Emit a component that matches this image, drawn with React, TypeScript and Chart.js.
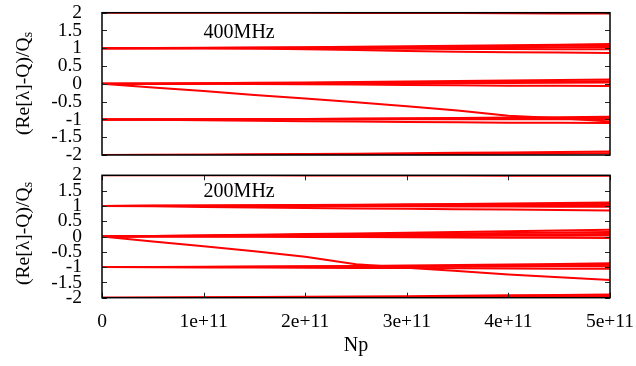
import React, { useEffect, useRef } from 'react';
import { Chart, registerables } from 'chart.js';

Chart.register(...registerables);

// ---------- data ----------
const npValues = [0, 0.5e11, 1e11, 1.5e11, 2e11, 2.5e11, 3e11, 3.5e11, 4e11, 4.5e11, 5e11];
const npMin = 0;
const npMax = 5e11;
const npStep = 1e11;
const yMin = -2;
const yMax = 2;
const yStep = 0.5;

const topLabel = '400MHz';
const bottomLabel = '200MHz';
const labelNp = 1e11;
const labelY = 1.3;
const xTitle = 'Np';
const yTitleMain = '(Re[λ]-Q)/Q';
const yTitleSub = 's';

// 400 MHz panel
const m400Plus2 = [2, 2, 2, 2, 2, 1.995, 1.99, 1.99, 1.985, 1.98, 1.98];
const m400Up1 = [1, 1.005, 1.012, 1.02, 1.03, 1.04, 1.055, 1.07, 1.085, 1.1, 1.12];
const m400Up2 = [1, 1.003, 1.008, 1.014, 1.02, 1.028, 1.036, 1.046, 1.056, 1.068, 1.08];
const m400Up3 = [1, 1.001, 1.003, 1.006, 1.009, 1.012, 1.016, 1.02, 1.025, 1.03, 1.035];
const m400Up4 = [1, 1, 0.999, 0.997, 0.995, 0.99, 0.986, 0.982, 0.978, 0.974, 0.97];
const m400Up5 = [1, 1, 1, 0.995, 0.975, 0.95, 0.925, 0.905, 0.89, 0.88, 0.87];
const m400Zero1 = [0, 0.01, 0.02, 0.03, 0.04, 0.05, 0.065, 0.08, 0.095, 0.11, 0.125];
const m400Zero2 = [0, 0.006, 0.012, 0.018, 0.025, 0.032, 0.04, 0.048, 0.056, 0.065, 0.075];
const m400Zero3 = [0, 0.002, 0.005, 0.008, 0.011, 0.014, 0.018, 0.022, 0.026, 0.03, 0.035];
const m400Zero4 = [0, 0, 0, -0.005, -0.01, -0.02, -0.03, -0.04, -0.05, -0.055, -0.06];
const m400Falling = [0, -0.1, -0.2, -0.31, -0.41, -0.52, -0.63, -0.75, -0.9, -0.97, -1.06];
const m400Down1 = [-1, -0.998, -0.995, -0.99, -0.985, -0.977, -0.968, -0.958, -0.948, -0.936, -0.925];
const m400Down2 = [-1, -0.999, -0.997, -0.994, -0.99, -0.986, -0.981, -0.976, -0.97, -0.964, -0.958];
const m400Down3 = [-1, -1, -1, -1, -1, -0.999, -0.998, -0.997, -0.996, -0.995, -0.994];
const m400Down4 = [-1, -1.01, -1.02, -1.035, -1.05, -1.06, -1.07, -1.08, -1.09, -1.095, -1.1];
const m400Minus1 = [-2, -1.996, -1.99, -1.982, -1.973, -1.963, -1.952, -1.94, -1.928, -1.915, -1.9];
const m400Minus2 = [-2, -1.998, -1.995, -1.991, -1.987, -1.982, -1.977, -1.971, -1.965, -1.958, -1.95];

// 200 MHz panel
const m200Plus2 = [2, 2, 2, 1.998, 1.996, 1.994, 1.992, 1.99, 1.988, 1.985, 1.982];
const m200Up1 = [1, 1.006, 1.013, 1.021, 1.03, 1.04, 1.052, 1.065, 1.08, 1.095, 1.11];
const m200Up2 = [1, 1.004, 1.008, 1.013, 1.019, 1.026, 1.033, 1.041, 1.05, 1.06, 1.07];
const m200Up3 = [1, 1.001, 1.003, 1.005, 1.008, 1.011, 1.014, 1.017, 1.021, 1.025, 1.03];
const m200Up4 = [1, 0.999, 0.997, 0.995, 0.992, 0.989, 0.986, 0.982, 0.978, 0.974, 0.97];
const m200Up5 = [1, 0.985, 0.965, 0.945, 0.928, 0.915, 0.903, 0.892, 0.88, 0.865, 0.85];
const m200Zero1 = [0, 0.02, 0.04, 0.06, 0.08, 0.1, 0.12, 0.145, 0.17, 0.195, 0.22];
const m200Zero2 = [0, 0.013, 0.027, 0.041, 0.055, 0.069, 0.084, 0.1, 0.116, 0.133, 0.15];
const m200Zero3 = [0, 0.007, 0.014, 0.021, 0.029, 0.037, 0.045, 0.054, 0.063, 0.072, 0.08];
const m200Zero4 = [0, 0.002, 0.005, 0.008, 0.011, 0.014, 0.017, 0.02, 0.023, 0.027, 0.03];
const m200Zero5 = [0, -0.002, -0.005, -0.01, -0.015, -0.02, -0.025, -0.03, -0.037, -0.043, -0.05];
const m200Falling = [0, -0.16, -0.32, -0.48, -0.66, -0.91, -1.02, -1.13, -1.24, -1.33, -1.42];
const m200Down1 = [-1, -0.995, -0.99, -0.982, -0.972, -0.961, -0.948, -0.933, -0.916, -0.897, -0.877];
const m200Down2 = [-1, -0.998, -0.995, -0.99, -0.984, -0.977, -0.969, -0.96, -0.95, -0.938, -0.925];
const m200Down3 = [-1, -1, -0.999, -0.997, -0.995, -0.992, -0.989, -0.985, -0.98, -0.975, -0.97];
const m200Down4 = [-1, -1.004, -1.009, -1.014, -1.02, -1.026, -1.032, -1.038, -1.044, -1.05, -1.056];
const m200Minus1 = [-2, -1.995, -1.989, -1.981, -1.972, -1.962, -1.951, -1.938, -1.924, -1.909, -1.893];
const m200Minus2 = [-2, -1.998, -1.995, -1.991, -1.986, -1.981, -1.975, -1.968, -1.961, -1.953, -1.945];

const series400 = [
  m400Plus2, m400Up1, m400Up2, m400Up3, m400Up4, m400Up5,
  m400Zero1, m400Zero2, m400Zero3, m400Zero4, m400Falling,
  m400Down1, m400Down2, m400Down3, m400Down4, m400Minus1, m400Minus2,
];
const series200 = [
  m200Plus2, m200Up1, m200Up2, m200Up3, m200Up4, m200Up5,
  m200Zero1, m200Zero2, m200Zero3, m200Zero4, m200Zero5, m200Falling,
  m200Down1, m200Down2, m200Down3, m200Down4, m200Minus1, m200Minus2,
];

// ---------- styling ----------
const FONT_FAMILY = '"Liberation Serif", "Times New Roman", serif';
const LINE_COLOR = 'rgb(255,0,0)';
const W = 636;
const H = 366;
const PLOT_LEFT = 102;
const PLOT_RIGHT = 610;
const TITLE_LEN = 103;

Chart.defaults.font.family = FONT_FAMILY;
Chart.defaults.font.size = 19.5;
Chart.defaults.color = '#000';

function buildDatasets(series: number[][]) {
  return series.map((ys) => ({
    data: ys.map((y, j) => ({ x: npValues[j], y })),
    borderColor: LINE_COLOR,
    backgroundColor: LINE_COLOR,
    borderWidth: 2,
    pointRadius: 0,
    pointHoverRadius: 0,
    tension: 0,
    fill: false,
  }));
}

const framePlugin = {
  id: 'gnuFrame',
  afterDraw(chart: any, _args: any, opts: any) {
    const { ctx, chartArea: a } = chart;
    const ys = chart.scales.y;
    const xs = chart.scales.x;
    ctx.save();
    ctx.strokeStyle = '#222';
    ctx.lineWidth = 1;
    ctx.beginPath();
    for (const t of ys.ticks) {
      const py = Math.round(ys.getPixelForValue(t.value)) + 0.5;
      ctx.moveTo(a.left, py);
      ctx.lineTo(a.left + 5, py);
      ctx.moveTo(a.right, py);
      ctx.lineTo(a.right - 5, py);
    }
    if (opts.xTicks) {
      for (const t of xs.ticks) {
        const px = Math.round(xs.getPixelForValue(t.value)) + 0.5;
        ctx.moveTo(px, a.top);
        ctx.lineTo(px, a.top + 5);
        ctx.moveTo(px, a.bottom);
        ctx.lineTo(px, a.bottom - 5);
      }
    }
    ctx.stroke();

    ctx.strokeStyle = '#000';
    ctx.lineWidth = 1.5;
    ctx.strokeRect(a.left, a.top, a.right - a.left, a.bottom - a.top);

    // panel label
    ctx.fillStyle = '#000';
    ctx.font = `20px ${FONT_FAMILY}`;
    ctx.textAlign = 'left';
    ctx.textBaseline = 'alphabetic';
    ctx.fillText(opts.label, xs.getPixelForValue(labelNp), ys.getPixelForValue(labelY));

    // y-axis title with subscript, sized to the reference length
    ctx.font = `20px ${FONT_FAMILY}`;
    const w0 = ctx.measureText(yTitleMain).width;
    ctx.font = `14px ${FONT_FAMILY}`;
    const s0 = ctx.measureText(yTitleSub).width;
    const k = TITLE_LEN / (w0 + s0);
    const mainFont = `${(20 * k).toFixed(2)}px ${FONT_FAMILY}`;
    const subFont = `${(14 * k).toFixed(2)}px ${FONT_FAMILY}`;
    const wMain = w0 * k;
    const total = TITLE_LEN;
    ctx.translate(opts.titleX, opts.titleCenterY);
    ctx.rotate(-Math.PI / 2);
    ctx.font = mainFont;
    ctx.fillText(yTitleMain, -total / 2, 0);
    ctx.font = subFont;
    ctx.fillText(yTitleSub, -total / 2 + wMain, 3);
    ctx.restore();
  },
};

function yScale() {
  return {
    type: 'linear' as const,
    min: yMin,
    max: yMax,
    grid: { display: false },
    border: { display: false },
    ticks: {
      stepSize: yStep,
      padding: 12,
      autoSkip: false,
      callback: (v: any) => String(Math.round(Number(v) * 10) / 10),
    },
    afterFit: (s: any) => {
      s.width = PLOT_LEFT;
      s.paddingTop = 0;
      s.paddingBottom = 0;
    },
  };
}

function makeTopConfig(): any {
  return {
    type: 'line',
    data: { datasets: buildDatasets(series400) },
    options: {
      animation: false,
      responsive: false,
      maintainAspectRatio: false,
      events: [],
      layout: { padding: { left: 0, right: W - PLOT_RIGHT, top: 12.7, bottom: H - 155 } },
      plugins: {
        legend: { display: false },
        tooltip: { enabled: false },
        gnuFrame: { label: topLabel, xTicks: false, titleX: 29, titleCenterY: 83.5 },
      },
      scales: {
        x: { type: 'linear', min: npMin, max: npMax, display: false, ticks: { stepSize: npStep } },
        y: yScale(),
      },
    },
    plugins: [framePlugin],
  };
}

function makeBottomConfig(): any {
  return {
    type: 'line',
    data: { datasets: buildDatasets(series200) },
    options: {
      animation: false,
      responsive: false,
      maintainAspectRatio: false,
      events: [],
      layout: { padding: { left: 0, right: W - PLOT_RIGHT, top: 175.3, bottom: 0 } },
      plugins: {
        legend: { display: false },
        tooltip: { enabled: false },
        gnuFrame: { label: bottomLabel, xTicks: true, titleX: 29, titleCenterY: 233.5 },
      },
      scales: {
        x: {
          type: 'linear',
          min: npMin,
          max: npMax,
          grid: { display: false },
          border: { display: false },
          ticks: {
            stepSize: npStep,
            padding: 4,
            maxRotation: 0,
            autoSkip: false,
            callback: (v: any) => {
              const n = Number(v);
              if (n === 0) return '0';
              return `${Math.round(n / 1e11)}e+11`;
            },
          },
          title: {
            display: true,
            text: xTitle,
            font: { size: 20, family: FONT_FAMILY },
            padding: { top: 0, bottom: 8 },
          },
          afterFit: (s: any) => {
            s.height = H - 297.7;
            s.paddingLeft = 0;
            s.paddingRight = 0;
          },
        },
        y: yScale(),
      },
    },
    plugins: [framePlugin],
  };
}

export default function App() {
  const topRef = useRef<HTMLCanvasElement | null>(null);
  const bottomRef = useRef<HTMLCanvasElement | null>(null);

  useEffect(() => {
    const c1 = new Chart(topRef.current as HTMLCanvasElement, makeTopConfig());
    const c2 = new Chart(bottomRef.current as HTMLCanvasElement, makeBottomConfig());
    return () => {
      c1.destroy();
      c2.destroy();
    };
  }, []);

  const canvasStyle: React.CSSProperties = {
    position: 'absolute',
    left: 0,
    top: 0,
    width: W,
    height: H,
  };

  return (
    <div style={{ position: 'absolute', left: 0, top: 0, width: W, height: H, background: '#fff' }}>
      <canvas ref={topRef} width={W} height={H} style={canvasStyle} />
      <canvas ref={bottomRef} width={W} height={H} style={canvasStyle} />
    </div>
  );
}
